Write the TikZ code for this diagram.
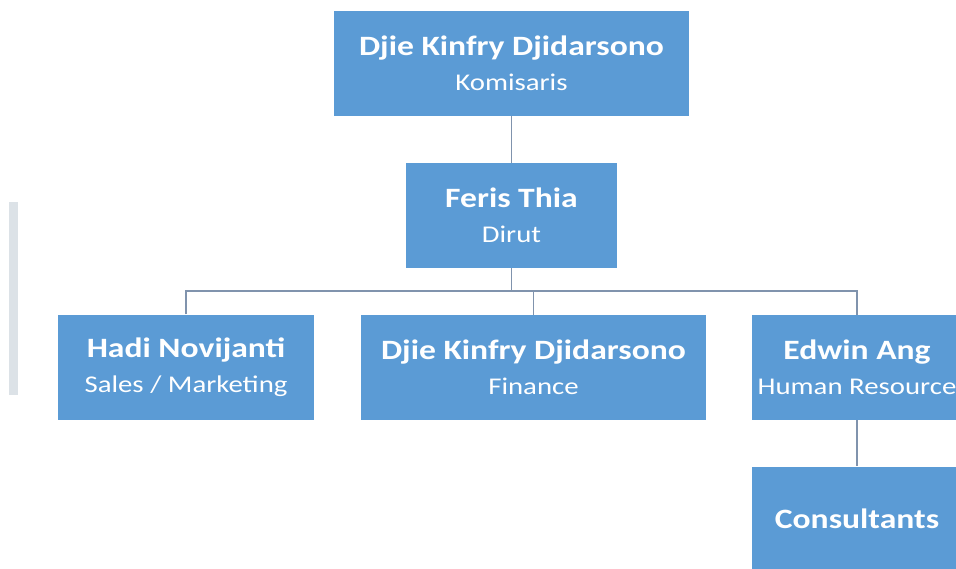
\documentclass[tikz,border=0pt]{standalone}
\usepackage{fontspec}
\setmainfont{Carlito}[FakeStretch=1.2]
\definecolor{boxblue}{HTML}{5B9BD5}
\definecolor{linegray}{HTML}{8093AD}
\definecolor{barshade}{HTML}{DCE2E7}
\newcommand\person[2]{{\fontsize{28}{35}\selectfont\bfseries #1}\\#2}

\begin{document}
\begin{tikzpicture}[x=1pt, y=-1pt,
    box/.style={fill=boxblue, text=white, align=center, inner sep=0pt,
      minimum height=105pt, font=\fontsize{24}{35}\selectfont},
    link/.style={draw=linegray, line width=1.3pt}]
    \useasboundingbox (0,0) rectangle (956,568);
    \clip (0,0) rectangle (956,568);

    % Faint bar at the left edge
    \fill[barshade] (9,202) rectangle (18,395);

    % Draw boxes
    \node[box, minimum width=355pt] (komisaris) at (511.5, 63) {\person{Djie Kinfry Djidarsono}{Komisaris}};
    \node[box, minimum width=211pt] (dirut) at (511.5, 215.5) {\person{Feris Thia}{Dirut}};
    \node[box, minimum width=256pt] (sales) at (186, 367) {\person{Hadi Novijanti}{Sales / Marketing}};
    \node[box, minimum width=345pt] (finance) at (533.5, 367.5) {\person{Djie Kinfry Djidarsono}{Finance}};
    \node[box, minimum width=210pt] (hr) at (857, 367.5) {\person{Edwin Ang}{Human Resource}};
    \node[box, minimum width=210pt, font=\fontsize{28}{35}\selectfont\bfseries] (consult) at (857, 519) {Consultants};

    % Draw connectors
    \coordinate (bus) at (0, 291);
    \draw[link] (komisaris) -- (dirut);
    \draw[link] (dirut.south) -- (dirut.south |- bus);
    \draw[link] (sales.north) |- (hr.north |- bus) -- (hr.north);
    \draw[link] (finance.north) -- (finance.north |- bus);
    \draw[link] (hr) -- (consult);
\end{tikzpicture}
\end{document}
